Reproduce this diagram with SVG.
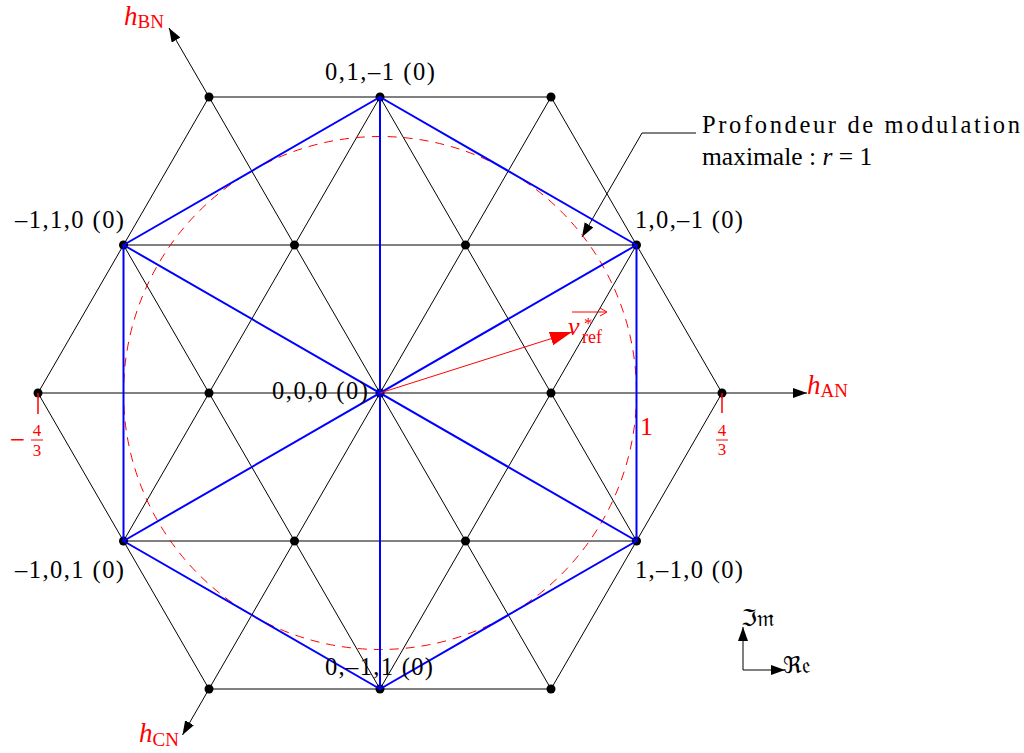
<svg xmlns="http://www.w3.org/2000/svg" width="1024" height="753" viewBox="0 0 1024 753">
<style>
.grid{stroke:#000;stroke-width:1;fill:none}
.blue{stroke:#0000ff;stroke-width:2;fill:none;stroke-linejoin:round;stroke-linecap:round}
.dot{fill:#000}
.lbl{font-family:"Liberation Serif",serif;font-size:24.5px;fill:#000}
.rlbl{font-family:"Liberation Serif",serif;fill:#ff0000}
.it{font-style:italic}
</style>
<defs>
<marker id="ah" markerWidth="16" markerHeight="12" refX="14" refY="5" orient="auto" markerUnits="userSpaceOnUse"><path d="M0,0 L14,5 L0,10 Z" fill="#000"/></marker>
<marker id="rah" markerWidth="24" markerHeight="16" refX="22" refY="7" orient="auto" markerUnits="userSpaceOnUse"><path d="M0,0 L22,7 L0,14 Z" fill="#ff0000"/></marker>
</defs>
<rect width="1024" height="753" fill="#fff"/>
<g id="connectors">
<g id="grid" class="grid">
<line x1="209" y1="97" x2="551" y2="97"/>
<line x1="123.5" y1="245" x2="636.5" y2="245"/>
<line x1="123.5" y1="541" x2="636.5" y2="541"/>
<line x1="209" y1="689" x2="551" y2="689"/>
<line x1="38" y1="393" x2="722" y2="393"/>
<line x1="38" y1="393" x2="209" y2="97"/>
<line x1="123.5" y1="541" x2="380" y2="97"/>
<line x1="209" y1="689" x2="551" y2="97"/>
<line x1="380" y1="689" x2="636.5" y2="245"/>
<line x1="551" y1="689" x2="722" y2="393"/>
<line x1="209" y1="689" x2="38" y2="393"/>
<line x1="380" y1="689" x2="123.5" y2="245"/>
<line x1="551" y1="689" x2="209" y2="97"/>
<line x1="636.5" y1="541" x2="380" y2="97"/>
<line x1="722" y1="393" x2="551" y2="97"/>
</g>
<g id="axes" class="grid">
<line x1="722" y1="393" x2="807" y2="393" marker-end="url(#ah)"/>
<line x1="209" y1="97" x2="169" y2="28" marker-end="url(#ah)"/>
<line x1="209" y1="689" x2="182.5" y2="735" marker-end="url(#ah)"/>
<polyline points="696,133 642,133 582,237" marker-end="url(#ah)"/>
<line x1="743" y1="670" x2="743" y2="627" marker-end="url(#ah)"/>
<line x1="743" y1="670" x2="785" y2="670" marker-end="url(#ah)"/>
</g>
<circle id="circle" cx="380" cy="393" r="256.5" fill="none" stroke="#ff0000" stroke-width="1" stroke-dasharray="9 7"/>
<g id="dots" class="dot">
<circle cx="209" cy="97" r="4.5"/><circle cx="380" cy="97" r="4.5"/><circle cx="551" cy="97" r="4.5"/>
<circle cx="123.5" cy="245" r="4.5"/><circle cx="294.5" cy="245" r="4.5"/><circle cx="465.5" cy="245" r="4.5"/><circle cx="636.5" cy="245" r="4.5"/>
<circle cx="38" cy="393" r="4.5"/><circle cx="209" cy="393" r="4.5"/><circle cx="380" cy="393" r="4.5"/><circle cx="551" cy="393" r="4.5"/><circle cx="722" cy="393" r="4.5"/>
<circle cx="123.5" cy="541" r="4.5"/><circle cx="294.5" cy="541" r="4.5"/><circle cx="465.5" cy="541" r="4.5"/><circle cx="636.5" cy="541" r="4.5"/>
<circle cx="209" cy="689" r="4.5"/><circle cx="380" cy="689" r="4.5"/><circle cx="551" cy="689" r="4.5"/>
</g>
<g id="blue" class="blue">
<polygon points="380,97 636.5,245 636.5,541 380,689 123.5,541 123.5,245"/>
<line x1="123.5" y1="245" x2="636.5" y2="541"/>
<line x1="636.5" y1="245" x2="123.5" y2="541"/>
<line x1="380" y1="97" x2="380" y2="689"/>
</g>
<g id="vref" stroke="#ff0000" stroke-width="1">
<line x1="380" y1="393" x2="572" y2="332" marker-end="url(#rah)"/>
<line x1="38" y1="393" x2="38" y2="414" stroke-width="1.5"/>
<line x1="722" y1="393" x2="722" y2="413" stroke-width="1.5"/>
</g>
</g>
<g id="node-010" class="lbl"><text x="325" y="80" textLength="110">0,1,–1 (0)</text></g>
<g id="node-m110" class="lbl"><text x="15" y="228" textLength="109">–1,1,0 (0)</text></g>
<g id="node-10m1" class="lbl"><text x="635" y="228" textLength="108">1,0,–1 (0)</text></g>
<g id="node-000" class="lbl"><text x="272" y="399" textLength="96">0,0,0 (0)</text></g>
<g id="node-m101" class="lbl"><text x="15" y="578" textLength="109">–1,0,1 (0)</text></g>
<g id="node-1m10" class="lbl"><text x="635" y="578" textLength="108">1,–1,0 (0)</text></g>
<g id="node-0m11" class="lbl"><text x="325" y="675" textLength="108">0,–1,1 (0)</text></g>
<g id="annotation" class="lbl">
<text x="702" y="133" textLength="318">Profondeur de modulation</text>
<text x="702" y="165" font-size="25.5">maximale : <tspan class="it">r</tspan> = 1</text>
</g>
<g id="axis-labels" class="rlbl">
<text x="124" y="25" font-size="27"><tspan class="it">h</tspan><tspan font-size="19" dy="3">BN</tspan></text>
<text x="807" y="394" font-size="27"><tspan class="it">h</tspan><tspan font-size="19" dy="3">AN</tspan></text>
<text x="139" y="742" font-size="27"><tspan class="it">h</tspan><tspan font-size="19" dy="4">CN</tspan></text>
<text x="640" y="435" font-size="26">1</text>
<text x="9" y="446" font-size="20" font-family="DejaVu Serif, serif">−</text>
<text x="37" y="436" font-size="17" text-anchor="middle">4</text>
<text x="37" y="456" font-size="17" text-anchor="middle">3</text>
<text x="722" y="436" font-size="17" text-anchor="middle">4</text>
<text x="722" y="455" font-size="17" text-anchor="middle">3</text>
<text x="568" y="335" font-size="26" class="it">v</text>
<text x="584" y="329" font-size="17">*</text>
<text x="582" y="343" font-size="18">ref</text>
</g>
<g id="fraction-bars" stroke="#ff0000" stroke-width="1">
<line x1="31" y1="440" x2="43" y2="440"/>
<line x1="716" y1="440" x2="728" y2="440"/>
<line x1="572" y1="312" x2="606" y2="312"/>
<path d="M600,308 L607,312 L600,316" fill="none"/>
</g>
<g id="re-im" font-family="DejaVu Serif, DejaVu Sans, serif" font-size="23" fill="#000">
<text x="741" y="626">ℑ𝔪</text>
<text x="783" y="673">ℜ𝔢</text>
</g>
</svg>
